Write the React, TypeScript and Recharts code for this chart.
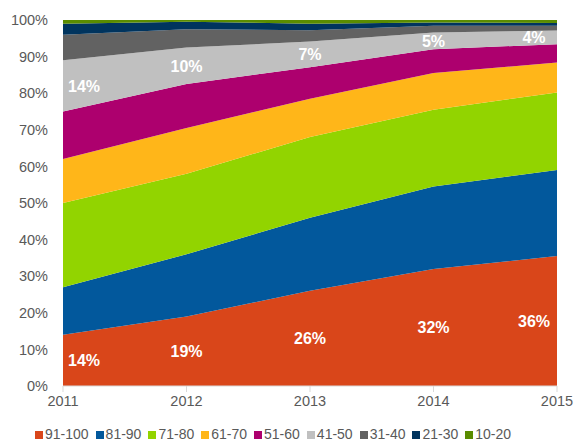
import { ComposedChart, Area, Line, XAxis, YAxis, Legend, LabelList } from "recharts";

// years on the x axis
const years = ["2011", "2012", "2013", "2014", "2015"];

// share of each score band per year (%), bottom to top
const s91_100 = [14, 19, 26, 32, 35.5];
const s81_90 = [13, 17, 20, 22.5, 23.5];
const s71_80 = [23, 22, 22, 21, 21.2];
const s61_70 = [12, 12.5, 10.5, 10, 8.2];
const s51_60 = [13, 12, 8.6, 6.5, 5];
const s41_50 = [14, 10, 7, 4.6, 3.7];
const s31_40 = [7, 5, 3.1, 1.8, 1.3];
const s21_30 = [3, 2, 1.8, 0.9, 0.8];
const s10_20 = [1, 0.5, 1, 0.7, 0.8];

const yTicks = [0, 10, 20, 30, 40, 50, 60, 70, 80, 90, 100];

const series = [
    { key: "a", name: "91-100", color: "#D9461A", values: s91_100 },
    { key: "b", name: "81-90", color: "#02589C", values: s81_90 },
    { key: "c", name: "71-80", color: "#92D400", values: s71_80 },
    { key: "d", name: "61-70", color: "#FFB619", values: s61_70 },
    { key: "e", name: "51-60", color: "#AD006E", values: s51_60 },
    { key: "f", name: "41-50", color: "#C0C0C0", values: s41_50 },
    { key: "g", name: "31-40", color: "#626262", values: s31_40 },
    { key: "h", name: "21-30", color: "#00345E", values: s21_30 },
    { key: "i", name: "10-20", color: "#5A8C00", values: s10_20 },
];

const data = years.map((year, i) => {
    const row: any = { year };
    series.forEach((s) => (row[s.key] = s.values[i]));
    return row;
});

const FONT = "'Liberation Sans', Arial, sans-serif";

function makeLabel(values: number[]) {
    return (props: any) => {
        const x = props.x ?? props.viewBox?.x;
        const y = props.y ?? props.viewBox?.y;
        const i = props.index;
        if (x == null || y == null || i == null) return null;
        let dx = 0;
        if (i === 0) dx = 21;
        if (i === values.length - 1) dx = -23;
        return (
            <text
                x={x + dx}
                y={y}
                dy="0.36em"
                textAnchor="middle"
                fill="#fff"
                fontSize={16}
                fontWeight="bold"
                fontFamily={FONT}
            >
                {Math.round(values[i]) + "%"}
            </text>
        );
    };
}

function LegendBox() {
    return (
        <div
            style={{
                height: 27,
                display: "flex",
                alignItems: "flex-end",
                paddingLeft: 35,
                fontFamily: FONT,
                fontSize: 14,
                color: "#595959",
            }}
        >
            {series.map((s) => (
                <div
                    key={s.key}
                    style={{ display: "flex", alignItems: "center", height: 17, lineHeight: "17px", marginRight: 7 }}
                >
                    <span style={{ width: 8, height: 8, background: s.color, marginRight: 2, display: "inline-block" }} />
                    <span style={{ whiteSpace: "nowrap" }}>{s.name}</span>
                </div>
            ))}
        </div>
    );
}

export default function App() {
    return (
        <div style={{ position: "absolute", left: 0, top: 0 }}>
            <ComposedChart
                width={574}
                height={443}
                data={data}
                margin={{ top: 20, right: 17, left: 0, bottom: 0 }}
            >
                <XAxis
                    dataKey="year"
                    scale="point"
                    padding={{ left: 0, right: 0 }}
                    height={30}
                    axisLine={{ stroke: "#D9D9D9" }}
                    tickLine={{ stroke: "#D9D9D9" }}
                    tickSize={6}
                    tickMargin={4}
                    tick={{ fill: "#595959", fontSize: 14.5, fontFamily: FONT }}
                />
                <YAxis
                    width={63}
                    domain={[0, 100]}
                    ticks={yTicks}
                    allowDataOverflow
                    axisLine={false}
                    tickLine={false}
                    tickSize={0}
                    tickMargin={15}
                    tickFormatter={(v: number) => v + "%"}
                    tick={{ fill: "#595959", fontSize: 14.5, fontFamily: FONT }}
                />
                {series.map((s) => (
                    <Area
                        key={s.key}
                        dataKey={s.key}
                        name={s.name}
                        stackId="1"
                        type="linear"
                        fill={s.color}
                        fillOpacity={1}
                        stroke="none"
                        isAnimationActive={false}
                    />
                ))}
                <Line
                    dataKey={(d: any) => d.a / 2}
                    stroke="none"
                    dot={false}
                    activeDot={false}
                    legendType="none"
                    isAnimationActive={false}
                >
                    <LabelList content={makeLabel(s91_100)} />
                </Line>
                <Line
                    dataKey={(d: any) => d.a + d.b + d.c + d.d + d.e + d.f / 2}
                    stroke="none"
                    dot={false}
                    activeDot={false}
                    legendType="none"
                    isAnimationActive={false}
                >
                    <LabelList content={makeLabel(s41_50)} />
                </Line>
                <Legend verticalAlign="bottom" content={() => <LegendBox />} />
            </ComposedChart>
        </div>
    );
}
